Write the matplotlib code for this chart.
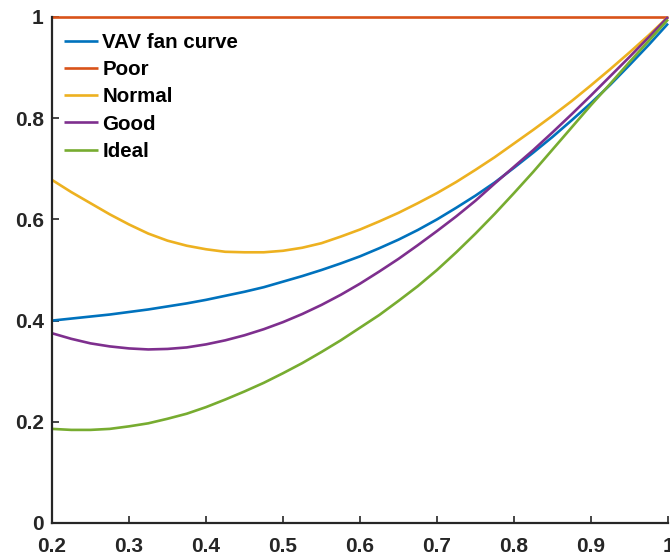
import matplotlib
matplotlib.use("Agg")
import matplotlib.pyplot as plt

plr = [0.200, 0.225, 0.250, 0.275, 0.300, 0.325, 0.350, 0.375, 0.400,
       0.425, 0.450, 0.475, 0.500, 0.525, 0.550, 0.575, 0.600, 0.625,
       0.650, 0.675, 0.700, 0.725, 0.750, 0.775, 0.800, 0.825, 0.850,
       0.875, 0.900, 0.925, 0.950, 0.975, 1.000]
vav_fan_curve = [0.400, 0.404, 0.408, 0.412, 0.417, 0.422, 0.428, 0.434, 0.441,
                 0.449, 0.457, 0.466, 0.477, 0.488, 0.500, 0.513, 0.527, 0.543,
                 0.560, 0.579, 0.600, 0.623, 0.647, 0.673, 0.702, 0.732, 0.763,
                 0.796, 0.830, 0.866, 0.905, 0.945, 0.987]
poor = [1.0] * len(plr)
normal = [0.678, 0.654, 0.632, 0.610, 0.590, 0.572, 0.558, 0.548, 0.541,
          0.536, 0.535, 0.535, 0.538, 0.544, 0.553, 0.566, 0.580, 0.596,
          0.613, 0.632, 0.652, 0.674, 0.698, 0.723, 0.750, 0.777, 0.805,
          0.834, 0.865, 0.897, 0.930, 0.964, 1.000]
good = [0.375, 0.364, 0.355, 0.349, 0.345, 0.343, 0.344, 0.347, 0.353,
        0.361, 0.371, 0.383, 0.397, 0.413, 0.431, 0.451, 0.473, 0.497,
        0.522, 0.549, 0.577, 0.606, 0.637, 0.671, 0.704, 0.737, 0.772,
        0.808, 0.845, 0.883, 0.921, 0.960, 1.000]
ideal = [0.186, 0.184, 0.184, 0.186, 0.191, 0.197, 0.206, 0.216, 0.229,
         0.244, 0.260, 0.277, 0.296, 0.316, 0.338, 0.361, 0.386, 0.411,
         0.439, 0.468, 0.500, 0.535, 0.572, 0.611, 0.652, 0.694, 0.738,
         0.782, 0.826, 0.868, 0.911, 0.953, 0.995]

series = [("VAV fan curve", vav_fan_curve, "#0072BD"),
          ("Poor", poor, "#D95319"),
          ("Normal", normal, "#EDB120"),
          ("Good", good, "#7E2F8E"),
          ("Ideal", ideal, "#77AC30")]

xticks = [0.2, 0.3, 0.4, 0.5, 0.6, 0.7, 0.8, 0.9, 1.0]
xticklabels = ["0.2", "0.3", "0.4", "0.5", "0.6", "0.7", "0.8", "0.9", "1"]
yticks = [0, 0.2, 0.4, 0.6, 0.8, 1.0]
yticklabels = ["0", "0.2", "0.4", "0.6", "0.8", "1"]

plt.rcParams['font.family'] = ['Liberation Sans', 'DejaVu Sans']
fig = plt.figure(figsize=(6.70, 5.57), dpi=100)
ax = fig.add_axes([52 / 670, 34 / 557, 616 / 670, 506 / 557])

for name, vals, col in series:
    ax.plot(plr, vals, color=col, lw=1.9, label=name, clip_on=False,
            solid_capstyle='butt', solid_joinstyle='round')

ax.set_xlim(0.2, 1.0)
ax.set_ylim(0, 1.0)
ax.set_xticks(xticks)
ax.set_xticklabels(xticklabels)
ax.set_yticks(yticks)
ax.set_yticklabels(yticklabels)

axcol = "#262626"
for s in ["top", "right"]:
    ax.spines[s].set_visible(False)
for s in ["left", "bottom"]:
    ax.spines[s].set_color(axcol)
    ax.spines[s].set_linewidth(1.6)
ax.tick_params(axis='both', direction='in', length=4.8, width=1.2,
               colors=axcol, labelsize=15)
ax.tick_params(axis='x', pad=10)
ax.tick_params(axis='y', pad=6)
for lab in ax.get_xticklabels() + ax.get_yticklabels():
    lab.set_fontweight('bold')

leg = ax.legend(loc='upper left', bbox_to_anchor=(12 / 616, 1 - 16 / 506),
                frameon=False, borderpad=0, borderaxespad=0,
                handlelength=1.66, handletextpad=0.2, labelspacing=0.40,
                prop={'size': 14.8, 'weight': 'bold'})

fig.savefig("out.png", dpi=100)
